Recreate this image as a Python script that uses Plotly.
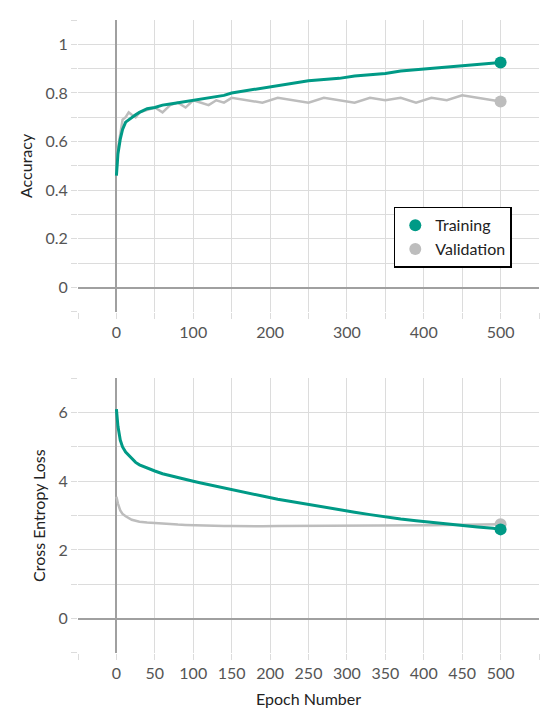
import plotly.graph_objects as go
from plotly.subplots import make_subplots

epochs = [0, 2, 5, 8, 12, 16, 20, 25, 30, 40, 50, 60, 70, 80, 90, 100, 110, 120, 130, 140, 150,
          170, 190, 210, 230, 250, 270, 290, 310, 330, 350, 370, 390, 410, 430, 450, 470, 490, 500]

train_acc = [0.46, 0.55, 0.61, 0.65, 0.68, 0.69, 0.70, 0.71, 0.72, 0.735, 0.74, 0.75, 0.755, 0.76, 0.765,
             0.77, 0.775, 0.78, 0.785, 0.79, 0.80, 0.81, 0.82, 0.83, 0.84, 0.85, 0.855, 0.86, 0.87, 0.875,
             0.88, 0.89, 0.895, 0.90, 0.905, 0.91, 0.915, 0.92, 0.925]
val_acc = [0.47, 0.57, 0.63, 0.69, 0.70, 0.72, 0.71, 0.70, 0.72, 0.73, 0.74, 0.72, 0.75, 0.76, 0.74,
           0.77, 0.76, 0.75, 0.77, 0.76, 0.78, 0.77, 0.76, 0.78, 0.77, 0.76, 0.78, 0.77, 0.76, 0.78,
           0.77, 0.78, 0.76, 0.78, 0.77, 0.79, 0.78, 0.77, 0.765]
train_loss = [6.1, 5.6, 5.2, 5.0, 4.85, 4.75, 4.65, 4.55, 4.48, 4.38, 4.3, 4.22, 4.16, 4.1, 4.05,
              4.0, 3.95, 3.9, 3.85, 3.8, 3.75, 3.66, 3.57, 3.48, 3.4, 3.32, 3.24, 3.17, 3.1, 3.03,
              2.96, 2.9, 2.85, 2.8, 2.75, 2.7, 2.67, 2.63, 2.6]
val_loss = [3.55, 3.35, 3.15, 3.05, 2.98, 2.92, 2.88, 2.85, 2.82, 2.8, 2.78, 2.76, 2.75, 2.74, 2.73,
            2.72, 2.72, 2.71, 2.71, 2.7, 2.7, 2.69, 2.69, 2.7, 2.7, 2.7, 2.7, 2.71, 2.71, 2.71,
            2.72, 2.72, 2.72, 2.72, 2.73, 2.73, 2.73, 2.74, 2.75]

TEAL = "#009a86"
GREY = "#bdbdbd"

fig = make_subplots(rows=2, cols=1)

for row, tr, va in [(1, train_acc, val_acc), (2, train_loss, val_loss)]:
    fig.add_trace(go.Scatter(x=epochs, y=va, mode="lines", line=dict(color=GREY, width=2.5),
                             showlegend=False), row=row, col=1)
    fig.add_trace(go.Scatter(x=epochs, y=tr, mode="lines", line=dict(color=TEAL, width=3),
                             showlegend=False), row=row, col=1)
    fig.add_trace(go.Scatter(x=[epochs[-1]], y=[va[-1]], mode="markers",
                             marker=dict(color=GREY, size=12), name="Validation",
                             showlegend=(row == 1), legendrank=2), row=row, col=1)
    fig.add_trace(go.Scatter(x=[epochs[-1]], y=[tr[-1]], mode="markers",
                             marker=dict(color=TEAL, size=12), name="Training",
                             showlegend=(row == 1), legendrank=1), row=row, col=1)

minor = dict(showgrid=True, gridcolor="#dcdcdc", ticks="outside", tickcolor="#dcdcdc", ticklen=6)
axis_style = dict(showgrid=True, gridcolor="#dcdcdc", gridwidth=1, zeroline=True,
                  zerolinecolor="#a0a0a0", zerolinewidth=2, showline=False,
                  ticks="outside", tickcolor="#dcdcdc", ticklen=6,
                  tickfont=dict(color="#555", size=16), automargin=False)
title_font = dict(size=16, color="#222")

fig.update_xaxes(**axis_style, range=[-50, 550])
fig.update_yaxes(**axis_style)
fig.update_xaxes(row=1, col=1, tickvals=[0, 100, 200, 300, 400, 500],
                 minor=dict(dtick=50, **minor))
fig.update_yaxes(row=1, col=1, range=[-0.1, 1.1], domain=[0.539, 1.0],
                 tickvals=[0, 0.2, 0.4, 0.6, 0.8, 1], ticktext=["0", "0.2", "0.4", "0.6", "0.8", "1"],
                 minor=dict(dtick=0.1, **minor),
                 title=dict(text="Accuracy", font=title_font, standoff=8))
fig.update_xaxes(row=2, col=1, tickvals=[0, 50, 100, 150, 200, 250, 300, 350, 400, 450, 500],
                 minor=dict(dtick=50, **minor),
                 title=dict(text="Epoch Number", font=title_font, standoff=12))
fig.update_yaxes(row=2, col=1, range=[-1, 7], domain=[0.0, 0.434],
                 tickvals=[0, 2, 4, 6], minor=dict(dtick=1, **minor),
                 title=dict(text="Cross Entropy Loss", font=title_font, standoff=8))

fig.update_layout(
    width=552, height=724,
    margin=dict(l=70, r=21, t=12, b=79),
    plot_bgcolor="white", paper_bgcolor="white",
    font=dict(family="Lato", color="#222"),
    legend=dict(x=0.685, y=0.705, xanchor="left", yanchor="top", bordercolor="black",
                borderwidth=1.5, bgcolor="white", font=dict(size=16)),
)

fig.write_html("out.html")
